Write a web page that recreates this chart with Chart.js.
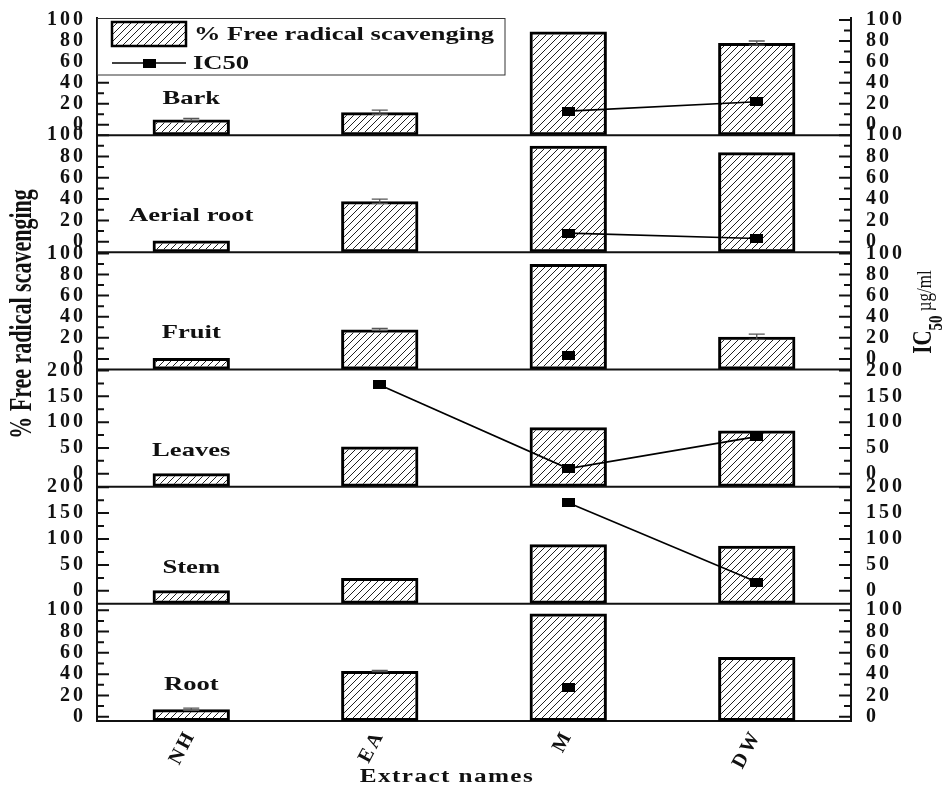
<!DOCTYPE html>
<html>
<head>
<meta charset="utf-8">
<script src="https://cdn.jsdelivr.net/npm/chart.js@4.4.1/dist/chart.umd.min.js"></script>
<style>
html,body{margin:0;padding:0;background:#fff;}
canvas{display:block;}
</style>
</head>
<body>
<canvas id="c" width="951" height="787"></canvas>
<script>
// ---------------- DATA ----------------
const categories = ['NH', 'EA', 'M', 'DW'];
const panelNames = ['Bark', 'Aerial root', 'Fruit', 'Leaves', 'Stem', 'Root'];

// % Free radical scavenging (bars)
const scavBark   = [5, 12, 89, 78];
const scavAerial = [1, 38, 90, 84];
const scavFruit  = [1, 28, 90, 21];
const scavLeaves = [1, 53, 90, 84];
const scavStem   = [1, 25, 90, 87];
const scavRoot   = [7, 43, 97, 56];

// error (+/-) on the bars
const errBark   = [1, 2, 0, 2];
const errAerial = [0, 2, 0, 0];
const errFruit  = [0, 1, 0, 2.5];
const errLeaves = [0, 0, 0, 0];
const errStem   = [0, 0, 0, 0];
const errRoot   = [1, 0.6, 0, 0];

// IC50 (µg/ml) line points
const ic50Bark   = [null, null, 13, 22];
const ic50Aerial = [null, null, 8, 3];
const ic50Fruit  = [null, null, 3, null];
const ic50Leaves = [null, 172, 10, 72];
const ic50Stem   = [null, null, 170, 17];
const ic50Root   = [null, null, 27, null];

// axis ranges and tick labels per panel
const axisMin = [-10, -10, -10, -25, -25, -4];
const axisMax = [102, 100, 101, 202, 201, 106];
const tickLabelsPct   = [0, 20, 40, 60, 80, 100];
const tickLabelsLarge = [0, 50, 100, 150, 200];
const minorStep = [10, 10, 10, 25, 25, 10];

const scavenging = [scavBark, scavAerial, scavFruit, scavLeaves, scavStem, scavRoot];
const errors = [errBark, errAerial, errFruit, errLeaves, errStem, errRoot];
const ic50 = [ic50Bark, ic50Aerial, ic50Fruit, ic50Leaves, ic50Stem, ic50Root];
const panelTicks = [tickLabelsPct, tickLabelsPct, tickLabelsPct, tickLabelsLarge, tickLabelsLarge, tickLabelsPct];

// ---------------- STYLE ----------------
const SERIF = "'Liberation Serif', 'Times New Roman', serif";
const canvas = document.getElementById('c');
const mainCtx = canvas.getContext('2d');

function makeHatch() {
  const s = 7;
  const c = document.createElement('canvas');
  c.width = s; c.height = s;
  const g = c.getContext('2d');
  g.strokeStyle = '#222';
  g.lineWidth = 1;
  g.beginPath();
  g.moveTo(0, s); g.lineTo(s, 0);
  g.moveTo(-1, 1); g.lineTo(1, -1);
  g.moveTo(s - 1, s + 1); g.lineTo(s + 1, s - 1);
  g.stroke();
  return mainCtx.createPattern(c, 'repeat');
}
const hatch = makeHatch();

function makeSquare() {
  const c = document.createElement('canvas');
  c.width = 13; c.height = 9;
  const g = c.getContext('2d');
  g.fillStyle = '#000';
  g.fillRect(0, 0, 13, 9);
  return c;
}
const squareMark = makeSquare();

const tickFont = {family: SERIF, size: 20, weight: 'bold'};

function noPad(s) {
  s.paddingTop = 0; s.paddingBottom = 0; s.paddingLeft = 0; s.paddingRight = 0;
}

// ---------------- SCALES ----------------
const scales = {
  x: {
    type: 'category',
    labels: categories,
    offset: true,
    position: 'bottom',
    grid: {display: false, drawTicks: false},
    border: {display: true, color: '#111', width: 2},
    ticks: {font: tickFont, color: '#111', minRotation: 62, maxRotation: 62, padding: 5, autoSkip: false},
    afterFit: s => { s.height = 66; noPad(s); }
  }
};
panelNames.forEach((name, i) => {
  const common = {
    type: 'linear',
    stackWeight: 1,
    min: axisMin[i],
    max: axisMax[i],
    grid: {display: false, drawTicks: false},
    border: {display: true, color: '#111', width: 2},
    afterBuildTicks: s => { s.ticks = panelTicks[i].map(v => ({value: v})); }
  };
  scales['yl' + i] = Object.assign({}, common, {
    position: 'left', stack: 'leftStack', weight: 6 - i,
    ticks: {font: tickFont, color: '#111', padding: 11, autoSkip: false},
    afterFit: s => { s.width = 97; noPad(s); }
  });
  scales['yr' + i] = Object.assign({}, common, {
    position: 'right', stack: 'rightStack', weight: i + 1,
    ticks: {font: tickFont, color: '#111', padding: 15, autoSkip: false},
    afterFit: s => { s.width = 100; noPad(s); }
  });
});

// ---------------- DATASETS ----------------
const datasets = [];
panelNames.forEach((name, i) => {
  datasets.push({
    type: 'line',
    label: 'IC50',
    panel: i,
    data: ic50[i],
    xAxisID: 'x',
    yAxisID: 'yr' + i,
    borderColor: '#000',
    borderWidth: 1.6,
    pointStyle: squareMark,
    pointRadius: 6,
    fill: false,
    tension: 0,
    spanGaps: false,
    order: 0
  });
  datasets.push({
    type: 'bar',
    label: '% Free radical scavenging',
    panel: i,
    data: scavenging[i],
    xAxisID: 'x',
    yAxisID: 'yl' + i,
    base: axisMin[i],
    grouped: false,
    barPercentage: 0.41,
    categoryPercentage: 1,
    backgroundColor: hatch,
    borderColor: '#000',
    borderWidth: 3,
    borderSkipped: false,
    order: 1
  });
});

// ---------------- DECORATION PLUGIN ----------------
function stretchedText(ctx, text, x, y, font, sx, align, spacing) {
  ctx.save();
  ctx.font = font;
  ctx.letterSpacing = (spacing || 0) + 'px';
  ctx.textAlign = align || 'left';
  ctx.textBaseline = 'middle';
  ctx.fillStyle = '#111';
  ctx.translate(x, y);
  ctx.scale(sx, 1);
  ctx.fillText(text, 0, 0);
  ctx.restore();
}

const decor = {
  id: 'decor',
  beforeDraw(chart) {
    chart.ctx.letterSpacing = '3px';
  },
  afterDatasetsDraw(chart) {
    const ctx = chart.ctx;
    ctx.save();
    ctx.strokeStyle = '#555';
    ctx.lineWidth = 1.3;
    chart.data.datasets.forEach((ds, di) => {
      if (ds.type !== 'bar') return;
      const meta = chart.getDatasetMeta(di);
      const ys = chart.scales[ds.yAxisID];
      const errs = errors[ds.panel];
      meta.data.forEach((el, j) => {
        const e = errs[j];
        if (!e) return;
        const v = ds.data[j];
        const yt = ys.getPixelForValue(v + e);
        const yb = ys.getPixelForValue(v - e);
        ctx.beginPath();
        ctx.moveTo(el.x, yt); ctx.lineTo(el.x, yb);
        ctx.moveTo(el.x - 8, yt); ctx.lineTo(el.x + 8, yt);
        ctx.moveTo(el.x - 8, yb); ctx.lineTo(el.x + 8, yb);
        ctx.stroke();
      });
    });
    ctx.restore();
  },
  afterDraw(chart) {
    const ctx = chart.ctx;
    const area = chart.chartArea;
    const L = area.left, R = area.right, T = area.top;

    // panel separators and inward tick marks
    ctx.save();
    ctx.strokeStyle = '#111';
    ctx.lineWidth = 2;
    panelNames.forEach((name, i) => {
      const yl = chart.scales['yl' + i];
      if (i < panelNames.length - 1) {
        ctx.beginPath();
        ctx.moveTo(L, yl.bottom);
        ctx.lineTo(R, yl.bottom);
        ctx.stroke();
      }
      const majors = panelTicks[i];
      for (let v = 0; v <= axisMax[i] + 1e-9; v += minorStep[i]) {
        const len = majors.includes(v) ? 12 : 7;
        const y = yl.getPixelForValue(v);
        ctx.beginPath();
        ctx.moveTo(L, y); ctx.lineTo(L + len, y);
        ctx.moveTo(R, y); ctx.lineTo(R - len, y);
        ctx.stroke();
      }
    });
    ctx.restore();

    // panel labels
    const xs = chart.scales.x;
    panelNames.forEach((name, i) => {
      const yl = chart.scales['yl' + i];
      stretchedText(ctx, name, xs.getPixelForValue(0), yl.bottom - 36,
        "bold 19px " + SERIF, 1.4, 'center', 0);
    });

    // legend box
    ctx.save();
    ctx.fillStyle = '#fff';
    ctx.fillRect(L, T, 408, 57);
    ctx.strokeStyle = '#333';
    ctx.lineWidth = 1;
    ctx.strokeRect(L + 0.5, T + 0.5, 407.5, 56.5);
    ctx.fillStyle = hatch;
    ctx.fillRect(L + 15, T + 4, 74, 24);
    ctx.strokeStyle = '#000';
    ctx.lineWidth = 2.5;
    ctx.strokeRect(L + 15, T + 4, 74, 24);
    ctx.lineWidth = 1.5;
    ctx.beginPath();
    ctx.moveTo(L + 15, T + 45);
    ctx.lineTo(L + 89, T + 45);
    ctx.stroke();
    ctx.drawImage(squareMark, L + 52 - 6.5, T + 45 - 4.5);
    ctx.restore();
    stretchedText(ctx, '% Free radical scavenging', L + 97, T + 17, "bold 18px " + SERIF, 1.47, 'left', 0);
    stretchedText(ctx, 'IC50', L + 96, T + 46, "bold 19px " + SERIF, 1.4, 'left', 0);

    // x-axis title
    stretchedText(ctx, 'Extract names', 447, 777, "bold 18px " + SERIF, 1.4, 'center', 1);

    // left y title (rotated)
    ctx.save();
    ctx.translate(23, 314);
    ctx.rotate(-Math.PI / 2);
    ctx.scale(1, 1.4);
    ctx.font = "bold 22px " + SERIF;
    ctx.letterSpacing = '0px';
    ctx.textAlign = 'center';
    ctx.textBaseline = 'middle';
    ctx.fillStyle = '#111';
    ctx.fillText('% Free radical scavenging', 0, 0);
    ctx.restore();

    // right y title: IC50 µg/ml with subscript
    ctx.save();
    ctx.translate(931, 312);
    ctx.rotate(-Math.PI / 2);
    ctx.scale(1, 1.25);
    ctx.letterSpacing = '0px';
    ctx.fillStyle = '#111';
    ctx.textBaseline = 'alphabetic';
    ctx.textAlign = 'left';
    const f1 = "bold 21px " + SERIF, f2 = "bold 15px " + SERIF, f3 = "17px " + SERIF;
    ctx.font = f1; const w1 = ctx.measureText('IC').width;
    ctx.font = f2; const w2 = ctx.measureText('50').width;
    ctx.font = f3; const w3 = ctx.measureText(' µg/ml').width;
    let px = -(w1 + w2 + w3) / 2;
    ctx.font = f1; ctx.fillText('IC', px, 0); px += w1;
    ctx.font = f2; ctx.fillText('50', px, 9); px += w2;
    ctx.font = f3; ctx.fillText(' µg/ml', px, 0);
    ctx.restore();
  }
};

// ---------------- CHART ----------------
new Chart(canvas, {
  type: 'bar',
  data: {labels: categories, datasets: datasets},
  options: {
    responsive: false,
    devicePixelRatio: 1,
    animation: false,
    layout: {padding: {top: 18, left: 0, right: 0, bottom: 0}},
    plugins: {legend: {display: false}, tooltip: {enabled: false}},
    scales: scales
  },
  plugins: [decor]
});
</script>
</body>
</html>
